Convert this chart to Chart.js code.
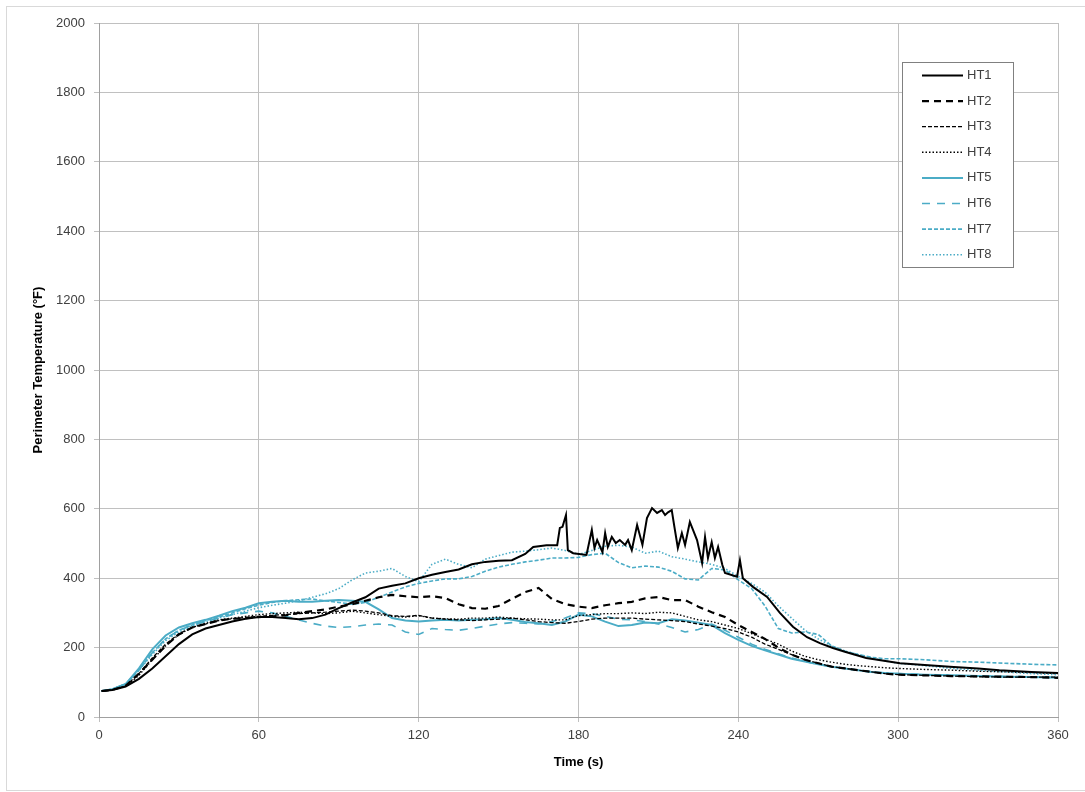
<!DOCTYPE html>
<html>
<head>
<meta charset="utf-8">
<script src="https://cdn.jsdelivr.net/npm/chart.js@4"></script>
<style>
  html, body { margin: 0; padding: 0; background: #fff; }
  #wrap { position: relative; width: 1085px; height: 792px; }
  #frame { position: absolute; left: 6px; top: 6px; width: 1090px; height: 783px; border: 1px solid #d9d9d9; pointer-events: none; }
  canvas { position: absolute; left: 0; top: 0; }
</style>
</head>
<body>
<div id="wrap">
  <canvas id="chart" width="1085" height="792"></canvas>
  <div id="frame"></div>
</div>
<script>
// time axis (s) shared by HT2..HT8
const times = [1,5,10,15,20,25,30,35,40,45,50,55,60,65,70,75,80,85,90,95,100,105,110,115,120,125,130,135,140,145,150,155,160,165,170,175,180,185,190,195,200,205,210,215,220,225,230,235,240,245,250,255,260,265,270,275,280,285,290,295,300,310,320,330,340,350,360];

// HT1 has its own, denser time base (spiky part)
const timesHT1 = [1,5,10,15,20,25,30,35,40,45,50,55,60,65,70,75,80,85,90,95,100,105,110,115,120,125,130,135,140,145,150,155,160,163,168,172,173,174,175.3,176,178,183,185,186,187,189,190,191,192.5,194,195.5,197.5,198.6,200,202,204,205.7,207.6,209.5,211.3,212.5,213.6,215,216,217.3,218.8,220,221.8,224.5,226.4,227.5,228.6,230,231.2,232.4,234,235,239.5,240.6,241.7,245.5,250.8,255.6,260.5,265.8,270.6,275.5,280,288,300.7,310,319.4,330,338,350,360];
const ht1 = [75,78,88,110,140,175,210,238,255,265,275,283,288,288,285,282,285,295,314,330,345,370,378,385,400,410,418,425,440,447,450,452,470,490,495,495,545,548,582,481,472,467,539,487,510,475,530,490,519,501,510,496,510,481,553,496,573,602,588,596,582,590,596,548,487,530,496,562,510,444,519,458,504,458,490,438,415,404,452,400,375,346,300,260,230,213,199,188,170,155,150,145,140,135,130,127];

const ht2 = [75,78,90,125,165,205,238,258,268,278,283,285,288,290,293,300,305,310,318,325,335,345,352,348,345,348,343,325,314,312,320,340,360,372,340,325,318,314,322,328,332,342,346,337,337,318,302,288,265,245,225,200,180,165,155,145,140,135,130,125,122,120,118,117,116,115,113];
const ht3 = [75,78,90,125,170,210,240,258,268,278,283,287,290,293,295,298,300,302,305,308,305,300,292,290,293,285,282,280,278,280,282,285,280,275,272,270,275,282,285,285,285,282,280,278,275,268,262,255,245,230,210,195,180,165,155,145,140,135,130,125,122,120,118,116,115,115,115];
const ht4 = [75,78,88,120,165,205,238,258,270,280,285,290,295,298,300,302,300,298,300,305,300,295,290,288,292,285,283,282,285,285,288,285,283,282,280,280,292,295,298,298,300,298,302,300,290,280,275,265,255,240,225,210,190,175,165,158,152,148,145,142,140,137,135,132,130,128,125];
const ht5 = [75,80,95,140,195,235,258,270,280,292,305,315,328,332,335,332,332,335,337,335,332,310,285,278,275,278,280,278,280,282,285,280,274,270,265,275,295,290,275,262,265,272,270,282,278,272,265,242,222,205,192,180,168,160,152,145,140,135,130,127,125,122,120,118,116,115,113];
const ht6 = [75,80,95,135,185,225,250,265,275,285,295,300,305,300,290,280,270,262,258,260,265,268,265,245,238,255,252,250,255,262,268,272,270,268,275,285,300,298,290,282,280,275,268,258,245,252,268,250,230,210,195,182,170,160,152,145,140,135,130,127,125,122,120,118,117,116,115];
const ht7 = [75,80,95,135,185,225,250,265,278,288,300,312,322,330,335,338,340,335,330,325,330,345,360,375,385,392,398,398,405,420,432,440,447,452,458,458,460,468,472,445,430,435,432,420,398,395,428,424,395,370,320,255,242,245,238,205,190,180,172,168,168,165,160,158,155,152,150];
const ht8 = [75,80,95,135,180,220,245,262,275,285,295,305,315,322,328,335,345,355,370,395,415,420,428,405,390,440,455,440,430,455,465,475,478,482,487,480,468,480,492,495,490,472,478,462,455,447,440,428,405,385,360,320,285,250,225,205,190,180,170,162,155,148,140,135,130,125,122];

const seriesLabels = ["HT1","HT2","HT3","HT4","HT5","HT6","HT7","HT8"];
const xTicks = [0,60,120,180,240,300,360];

const black = "#000000";
const teal = "#4bacc6";

function pts(ts, vals) {
  return ts.map((t, i) => ({ x: t, y: vals[i] }));
}

function ds(label, ts, vals, color, width, dash) {
  return {
    label: label,
    data: pts(ts, vals),
    borderColor: color,
    backgroundColor: color,
    borderWidth: width,
    borderDash: dash,
    pointRadius: 0,
    tension: 0,
    fill: false,
  };
}

const datasets = [
  ds(seriesLabels[0], timesHT1, ht1, black, 2, []),
  ds(seriesLabels[1], times, ht2, black, 2.2, [7, 5]),
  ds(seriesLabels[2], times, ht3, black, 1.3, [4, 2]),
  ds(seriesLabels[3], times, ht4, black, 1.4, [1.5, 2]),
  ds(seriesLabels[4], times, ht5, teal, 2, []),
  ds(seriesLabels[5], times, ht6, teal, 1.6, [8, 7]),
  ds(seriesLabels[6], times, ht7, teal, 1.6, [4, 2]),
  ds(seriesLabels[7], times, ht8, teal, 1.6, [1.5, 2]),
];

// legend box drawn inside the plot, like the original
const boxLegend = {
  id: "boxLegend",
  afterDraw(chart) {
    const ctx = chart.ctx;
    const left = 902, top = 62, w = 111, h = 205;
    ctx.save();
    ctx.fillStyle = "#fff";
    ctx.fillRect(left, top, w, h);
    ctx.strokeStyle = "#808080";
    ctx.lineWidth = 1;
    ctx.strokeRect(left + 0.5, top + 0.5, w, h);
    ctx.font = "13px 'Liberation Sans', Arial, sans-serif";
    ctx.textBaseline = "middle";
    chart.data.datasets.forEach((d, i) => {
      const y = 75.5 + i * 25.6;
      ctx.beginPath();
      ctx.strokeStyle = d.borderColor;
      ctx.lineWidth = d.borderWidth;
      ctx.setLineDash(d.borderDash || []);
      ctx.moveTo(922, y);
      ctx.lineTo(963, y);
      ctx.stroke();
      ctx.setLineDash([]);
      ctx.fillStyle = "#404040";
      ctx.fillText(d.label, 967, y);
    });
    ctx.restore();
  },
};

const ctx = document.getElementById("chart").getContext("2d");
new Chart(ctx, {
  type: "line",
  data: { datasets: datasets },
  plugins: [boxLegend],
  options: {
    responsive: false,
    animation: false,
    layout: { padding: { left: 27, right: 27, top: 23, bottom: 20 } },
    plugins: {
      legend: { display: false },
      tooltip: { enabled: false },
    },
    scales: {
      x: {
        type: "linear",
        min: 0,
        max: 360,
        afterBuildTicks: (scale) => {
          scale.ticks = xTicks.map((v) => ({ value: v }));
        },
        afterFit: (scale) => {
          scale.height = 55;
        },
        grid: { color: "#c0c0c0", lineWidth: 1, tickLength: 5 },
        border: { color: "#a0a0a0" },
        ticks: {
          color: "#404040",
          padding: 6,
          maxRotation: 0,
          callback: (v) => String(v),
          font: { family: "'Liberation Sans', Arial, sans-serif", size: 13 },
        },
        title: {
          display: true,
          text: "Time (s)",
          color: "#000",
          padding: { top: 0, bottom: 2 },
          font: { family: "'Liberation Sans', Arial, sans-serif", size: 13, weight: "bold" },
        },
      },
      y: {
        min: 0,
        max: 2000,
        ticks: {
          stepSize: 200,
          color: "#404040",
          padding: 9,
          callback: (v) => String(v),
          font: { family: "'Liberation Sans', Arial, sans-serif", size: 13 },
        },
        afterFit: (scale) => {
          scale.width = 72;
        },
        grid: { color: "#c0c0c0", lineWidth: 1, tickLength: 5 },
        border: { color: "#a0a0a0" },
        title: {
          display: true,
          text: "Perimeter Temperature (°F)",
          color: "#000",
          padding: { top: 4, bottom: 4 },
          font: { family: "'Liberation Sans', Arial, sans-serif", size: 13, weight: "bold" },
        },
      },
    },
  },
});
</script>
</body>
</html>
